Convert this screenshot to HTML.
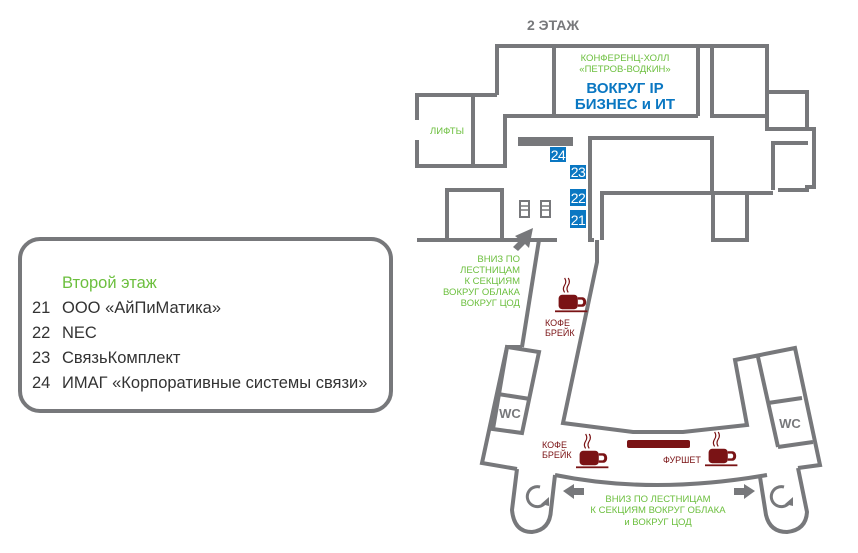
<!DOCTYPE html>
<html><head><meta charset="utf-8"><style>
html,body{margin:0;padding:0;background:#fff;}
svg{display:block;}
text{font-family:"Liberation Sans",sans-serif;}
</style></head><body>
<svg width="858" height="553" viewBox="0 0 858 553" xmlns="http://www.w3.org/2000/svg">
<!-- legend -->
<rect x="20" y="239" width="371" height="172" rx="20" fill="none" stroke="#77787b" stroke-width="4"/>
<text x="62" y="288" font-size="16.5" fill="#6cbf3e">Второй этаж</text>
<g font-size="16.5" fill="#333">
<text x="32" y="313">21</text><text x="62" y="313">ООО «АйПиМатика»</text>
<text x="32" y="338">22</text><text x="62" y="338">NEC</text>
<text x="32" y="363">23</text><text x="62" y="363">СвязьКомплект</text>
<text x="32" y="388">24</text><text x="62" y="388">ИМАГ  «Корпоративные системы связи»</text>
</g>
<text x="553" y="30" font-size="14" font-weight="bold" fill="#77787b" text-anchor="middle">2 ЭТАЖ</text>

<g fill="none" stroke="#77787b" stroke-width="4" stroke-linejoin="miter">
<polyline points="497,95 497,46 767,46 767,92 807,92 807,129 814,129 814,187 807,187 807,190 778,190"/>
<polyline points="417,120 417,95 497,95"/>
<polyline points="417,140 417,166 505,166 505,116 698,116"/>
<line x1="473" y1="95" x2="473" y2="166"/>
<line x1="554" y1="46" x2="554" y2="116"/>
<line x1="698" y1="46" x2="698" y2="116"/>
<polyline points="712,46 712,116 767,116"/>
<polyline points="767,92 767,129 807,129"/>
<polyline points="808,143 773,143 773,190"/>
<polyline points="594,240 590,240 590,138 712,138 712,193 773,193"/>
<polyline points="602,240 602,193 713,193 713,240 747,240 747,193"/>
<polyline points="447,240 447,190 502,190 502,240"/>
<line x1="417" y1="240" x2="557" y2="240"/>
<line x1="539" y1="240" x2="522" y2="347"/>
<polyline points="597,240 597,262 563,423 633,432 683,432 747,425 735,360 795,348 820,465 798,468"/>
<polyline points="522,347 507,347 482,463 517,469"/>
<polygon points="507,347 539,352 522,433 493,429"/>
<line x1="498" y1="394" x2="530" y2="399"/>
<line x1="758" y1="357" x2="778" y2="447"/>
<line x1="768" y1="403" x2="802" y2="398"/>
<line x1="778" y1="447" x2="813" y2="442"/>
<path d="M517,469 L512,510 Q514,532 532,532 Q550,530 551,510 L555,475"/>
<path d="M555,475 Q653,495 767,475"/>
<path d="M760,477 L766,515 Q770,532 787,532 Q806,530 807,512 L798,468"/>
</g>
<g fill="none" stroke="#77787b" stroke-width="3">
<path d="M540,487 A10,10 0 1 0 545,503"/>
<path d="M784,487 A10,10 0 1 0 789,503"/>
</g>
<polygon points="541,504 549,497 549,506" fill="#77787b"/>
<polygon points="785,504 793,497 793,506" fill="#77787b"/>
<rect x="518" y="137" width="55" height="9" fill="#77787b"/>
<g fill="#0a77c2"><rect x="550" y="147" width="16" height="15"/><rect x="570" y="165" width="16" height="14"/><rect x="570" y="189" width="16" height="17"/><rect x="570" y="210" width="16" height="18"/></g>
<g fill="#fff" font-size="14" text-anchor="middle" letter-spacing="-0.5"><text x="558" y="160">24</text><text x="578" y="177">23</text><text x="578" y="203">22</text><text x="578" y="225">21</text></g>
<g fill="none" stroke="#77787b" stroke-width="2"><rect x="520" y="201" width="9" height="16"/><rect x="541" y="201" width="9" height="16"/></g>
<g stroke="#77787b" stroke-width="1.5"><line x1="521" y1="206" x2="528" y2="206"/><line x1="521" y1="210" x2="528" y2="210"/><line x1="542" y1="206" x2="549" y2="206"/><line x1="542" y1="210" x2="549" y2="210"/></g>
<polygon points="533,228 515,236 520,240 513,247 518,251 525,244 529,248" fill="#77787b"/>
<polygon points="563,491 574,484 574,488 584,488 584,495 574,495 574,499" fill="#77787b"/>
<polygon points="755,491 744,484 744,488 734,488 734,495 744,495 744,499" fill="#77787b"/>
<g fill="#6cbf3e" font-size="9.5" text-anchor="middle">
<text x="625" y="61">КОНФЕРЕНЦ-ХОЛЛ</text>
<text x="625" y="72">«ПЕТРОВ-ВОДКИН»</text>
<text x="447" y="134">ЛИФТЫ</text>
<text x="520" y="262" text-anchor="end">ВНИЗ ПО</text>
<text x="520" y="273" text-anchor="end">ЛЕСТНИЦАМ</text>
<text x="520" y="284" text-anchor="end">К СЕКЦИЯМ</text>
<text x="520" y="295" text-anchor="end">ВОКРУГ ОБЛАКА</text>
<text x="520" y="306" text-anchor="end">ВОКРУГ ЦОД</text>
<text x="658" y="502">ВНИЗ ПО ЛЕСТНИЦАМ</text>
<text x="658" y="513">К СЕКЦИЯМ ВОКРУГ ОБЛАКА</text>
<text x="658" y="525">и ВОКРУГ ЦОД</text>
</g>
<g fill="#0a77c2" font-size="15" font-weight="bold" text-anchor="middle">
<text x="625" y="93">ВОКРУГ IP</text>
<text x="625" y="109">БИЗНЕС и ИТ</text>
</g>
<g fill="#7a1315" font-size="9">
<text x="545" y="326">КОФЕ</text><text x="545" y="336">БРЕЙК</text>
<text x="542" y="448">КОФЕ</text><text x="542" y="458">БРЕЙК</text>
<text x="663" y="463">ФУРШЕТ</text>
</g>
<rect x="627" y="440" width="63" height="8" rx="2" fill="#7a1315"/>
<g fill="#7a1315">
<g transform="translate(555,278) scale(1.2)"><rect x="3" y="14" width="16" height="12" rx="3"/><path d="M19,16 h4 a3,4 0 0 1 0,8 h-4 v-2 h3 a1.5,2 0 0 0 0,-4 h-3z"/><rect x="0" y="27" width="27" height="1.5"/><path d="M8,12 q-2,-3 0,-6 q2,-3 0,-6 M11,12 q-2,-3 0,-6 q2,-3 0,-6" stroke="#7a1315" fill="none" stroke-width="1"/></g>
<g transform="translate(576,434) scale(1.2)"><rect x="3" y="14" width="16" height="12" rx="3"/><path d="M19,16 h4 a3,4 0 0 1 0,8 h-4 v-2 h3 a1.5,2 0 0 0 0,-4 h-3z"/><rect x="0" y="27" width="27" height="1.5"/><path d="M8,12 q-2,-3 0,-6 q2,-3 0,-6 M11,12 q-2,-3 0,-6 q2,-3 0,-6" stroke="#7a1315" fill="none" stroke-width="1"/></g>
<g transform="translate(705,432) scale(1.2)"><rect x="3" y="14" width="16" height="12" rx="3"/><path d="M19,16 h4 a3,4 0 0 1 0,8 h-4 v-2 h3 a1.5,2 0 0 0 0,-4 h-3z"/><rect x="0" y="27" width="27" height="1.5"/><path d="M8,12 q-2,-3 0,-6 q2,-3 0,-6 M11,12 q-2,-3 0,-6 q2,-3 0,-6" stroke="#7a1315" fill="none" stroke-width="1"/></g>
</g>
<g fill="#77787b" font-size="13" font-weight="bold" text-anchor="middle">
<text x="510" y="418">WC</text><text x="790" y="428">WC</text>
</g>
</svg>
</body></html>
